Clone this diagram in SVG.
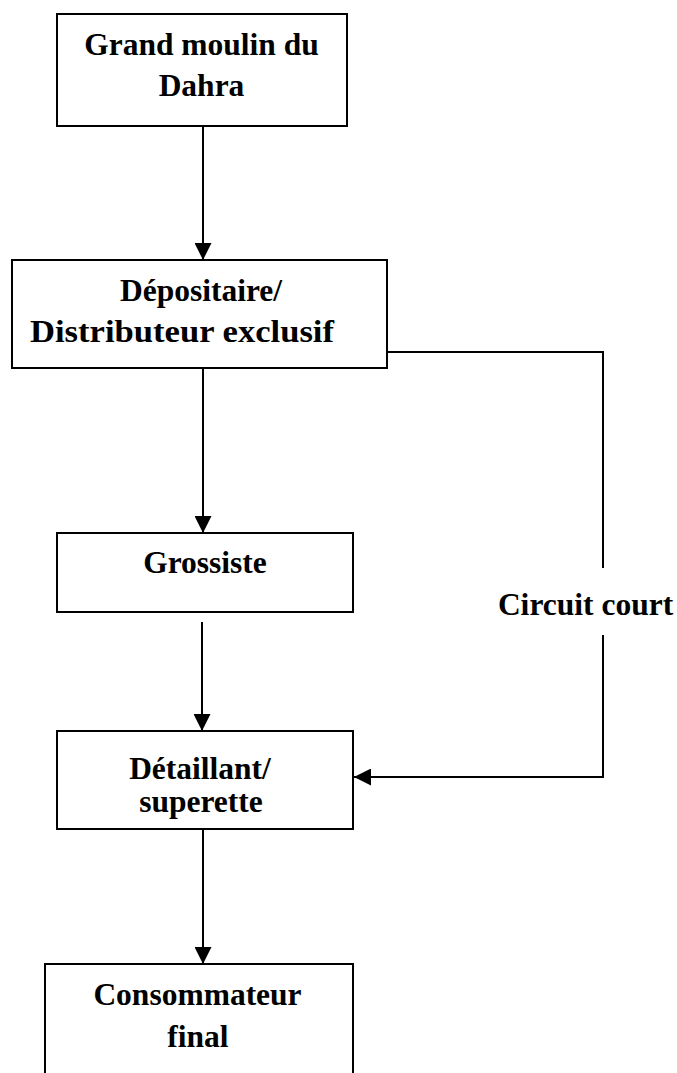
<svg xmlns="http://www.w3.org/2000/svg" width="677" height="1073" viewBox="0 0 677 1073">
<style>
.box{fill:#fff;stroke:#000;stroke-width:2}
.t{font-family:"Liberation Serif","Times New Roman",serif;font-weight:bold;font-size:31.5px;fill:#000;text-anchor:middle}
.c{fill:none;stroke:#000;stroke-width:2}
</style>
<defs>
<marker id="ah" markerUnits="userSpaceOnUse" markerWidth="17" markerHeight="17" refX="16" refY="8" orient="auto" viewBox="0 0 16 16">
<path d="M0,0 L16,8 L0,16 Z" fill="#000"/>
</marker>
</defs>
<rect width="677" height="1073" fill="#fff"/>
<g id="connectors">
<line class="c" x1="203" y1="126" x2="203" y2="260" marker-end="url(#ah)"/>
<line class="c" x1="203" y1="368" x2="203" y2="533" marker-end="url(#ah)"/>
<line class="c" x1="202" y1="622" x2="202" y2="731" marker-end="url(#ah)"/>
<line class="c" x1="203" y1="829" x2="203" y2="964" marker-end="url(#ah)"/>
<polyline class="c" points="387,352 603,352 603,568"/>
<polyline class="c" points="603,635 603,777 354,777" marker-end="url(#ah)"/>
<text class="t" x="585.5" y="615">Circuit court</text>
</g>
<g id="n1">
<rect class="box" x="57" y="14" width="290" height="112"/>
<text class="t" x="201.5" y="55">Grand moulin du</text>
<text class="t" x="201.5" y="96">Dahra</text>
</g>
<g id="n2">
<rect class="box" x="12" y="260" width="375" height="108"/>
<text class="t" x="201" y="301">Dépositaire/</text>
<text class="t" x="30" y="342" style="text-anchor:start" textLength="304" lengthAdjust="spacingAndGlyphs">Distributeur exclusif</text>
</g>
<g id="n3">
<rect class="box" x="57" y="533" width="296" height="79"/>
<text class="t" x="205" y="573">Grossiste</text>
</g>
<g id="n4">
<rect class="box" x="57" y="731" width="296" height="98"/>
<text class="t" x="200" y="779">Détaillant/</text>
<text class="t" x="201" y="812">superette</text>
</g>
<g id="n5">
<path class="box" d="M45,1074 V964 H353 V1074"/>
<text class="t" x="197.5" y="1005">Consommateur</text>
<text class="t" x="198" y="1047">final</text>
</g>
</svg>
